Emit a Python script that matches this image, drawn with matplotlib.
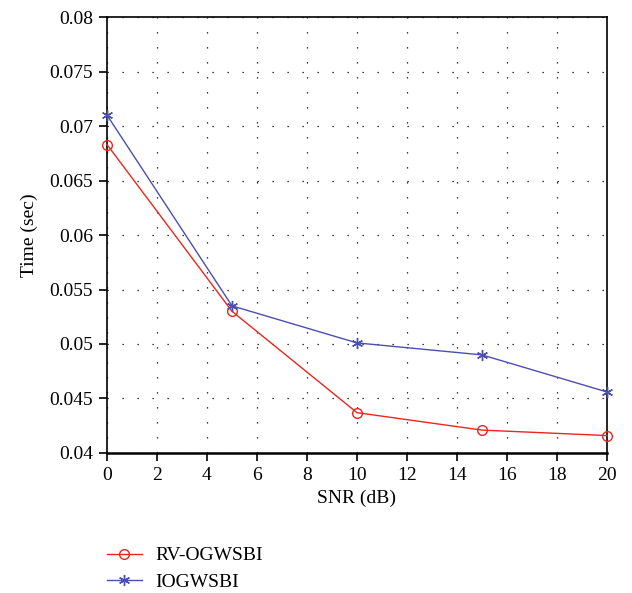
import numpy as np
import matplotlib.pyplot as plt

plt.rcParams['font.family'] = ['Liberation Serif', 'DejaVu Serif']

# ── Data ───────────────────────────────────────────────────────
snr = [0, 5, 10, 15, 20]
rv_ogwsbi = [0.0683, 0.0530, 0.0437, 0.0421, 0.0416]
iogwsbi = [0.0710, 0.0535, 0.0501, 0.0490, 0.0456]
x_ticks = [0, 2, 4, 6, 8, 10, 12, 14, 16, 18, 20]
y_ticks = [0.04, 0.045, 0.05, 0.055, 0.06, 0.065, 0.07, 0.075, 0.08]
y_labels = ["0.04", "0.045", "0.05", "0.055", "0.06", "0.065", "0.07", "0.075", "0.08"]

# ── Plot ───────────────────────────────────────────────────────
fig = plt.figure(figsize=(6.32, 5.93), dpi=100)
ax = fig.add_axes([0.1693, 0.2361, 0.7911, 0.7352])

ax.plot(snr, rv_ogwsbi, color="#e8271f", lw=1.0, marker="o", markersize=7,
        markerfacecolor="none", markeredgecolor="#e8271f", markeredgewidth=1.0,
        label="RV-OGWSBI", clip_on=False, zorder=5)
ax.plot(snr, iogwsbi, color="#4a4fb0", lw=1.0, marker=(6, 2, 0), markersize=8,
        markeredgecolor="#4a4fb0", markeredgewidth=1.0, label="IOGWSBI",
        clip_on=False, zorder=5)

ax.set_xlim(0, 20)
ax.set_ylim(0.04, 0.08)
ax.set_xticks(x_ticks)
ax.set_yticks(y_ticks)
ax.set_yticklabels(y_labels)
ax.grid(True, color="black", linestyle=(0, (1, 11)), linewidth=0.9)
ax.tick_params(direction="out", labelsize=14, color="black", width=1.2,
               length=6, pad=4)

for s in ax.spines.values():
    s.set_linewidth(1.2)
ax.spines["bottom"].set_linewidth(1.8)

ax.set_xlabel("SNR (dB)", fontsize=14, labelpad=4)
ax.set_ylabel("Time (sec)", fontsize=14, labelpad=8)

ax.legend(loc="upper left", bbox_to_anchor=(-0.035, -0.175), frameon=False,
          fontsize=14, handlelength=1.8, handletextpad=0.7, labelspacing=0.45)

plt.savefig("out.png", dpi=100)
